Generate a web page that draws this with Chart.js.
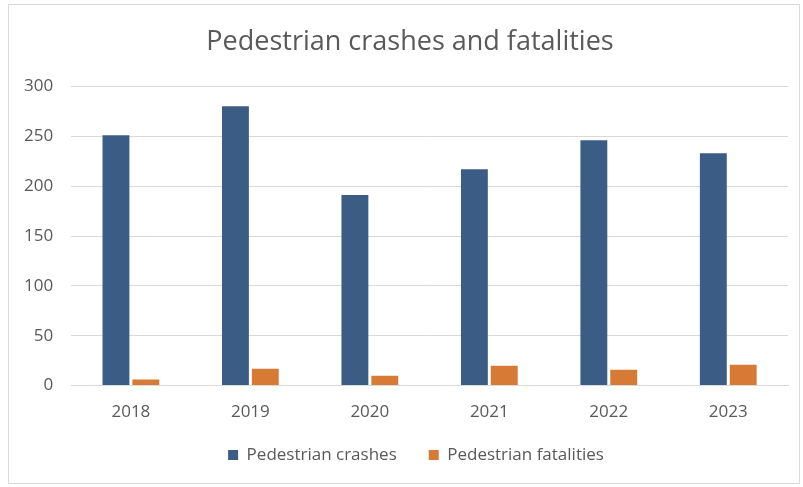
<!DOCTYPE html>
<html>
<head>
<meta charset="utf-8">
<script src="https://cdn.jsdelivr.net/npm/chart.js@4/dist/chart.umd.min.js"></script>
<style>
  html, body { margin: 0; padding: 0; background: #fff; }
  #wrap { position: relative; width: 803px; height: 487px; }
  #frame { position: absolute; left: 8px; top: 4px; width: 792px; height: 480px; border: 1px solid #d9d9d9; box-sizing: border-box; pointer-events: none; }
  canvas { position: absolute; left: 0; top: 0; }
</style>
</head>
<body>
<div id="wrap">
  <canvas id="c" width="803" height="487"></canvas>
  <div id="frame"></div>
</div>
<script>
const categories = ["2018", "2019", "2020", "2021", "2022", "2023"];
const crashes = [251, 280, 191, 217, 246, 233];
const fatalities = [6, 17, 10, 20, 16, 21];
const yTicks = [0, 50, 100, 150, 200, 250, 300];

const FONT = "'Open Sans', 'Liberation Sans', sans-serif";
const TEXT = "#595959";

// Nudge the legend and title so their position and spacing match the reference.
const boxShift = {
  id: "boxShift",
  afterLayout(chart) {
    const lg = chart.legend;
    if (lg) {
      const dx = 19, dy = -23.5;
      lg.left += dx; lg.right += dx;
      lg.top += dy; lg.bottom = lg.top + 70;
      lg.height = lg.bottom - lg.top;
    }
    const t = chart.titleBlock;
    if (t) { t.left += 13; t.right += 13; }
  }
};

new Chart(document.getElementById("c"), {
  type: "bar",
  data: {
    labels: categories,
    datasets: [
      { label: "Pedestrian crashes", data: crashes, backgroundColor: "#3a5c85",
        categoryPercentage: 0.5, barPercentage: 0.9 },
      { label: "Pedestrian fatalities", data: fatalities, backgroundColor: "#d67a35",
        categoryPercentage: 0.5, barPercentage: 0.9 }
    ]
  },
  plugins: [boxShift],
  options: {
    responsive: false,
    animation: false,
    devicePixelRatio: 1,
    layout: { padding: { left: 6, right: 15, top: 12, bottom: 13.5 } },
    plugins: {
      tooltip: { enabled: false },
      title: {
        display: true,
        text: "Pedestrian crashes and fatalities",
        color: TEXT,
        font: { family: FONT, size: 27, weight: "normal" },
        padding: { top: 14, bottom: 28 }
      },
      legend: {
        position: "bottom",
        maxHeight: 35.5,
        labels: {
          color: TEXT,
          font: { family: FONT, size: 17 },
          boxWidth: 10, boxHeight: 10,
          padding: 32
        }
      }
    },
    scales: {
      x: {
        grid: { display: false, drawTicks: false },
        border: { display: true, color: "#d9d9d9", width: 1 },
        ticks: { color: TEXT, font: { family: FONT, size: 17 }, padding: 16 }
      },
      y: {
        min: 0, max: 300,
        afterBuildTicks: (axis) => { axis.ticks = yTicks.map(v => ({ value: v })); },
        grid: { color: "#d9d9d9", drawTicks: false },
        border: { display: false },
        ticks: { color: TEXT, font: { family: FONT, size: 17 }, padding: 18 }
      }
    }
  }
});
</script>
</body>
</html>
